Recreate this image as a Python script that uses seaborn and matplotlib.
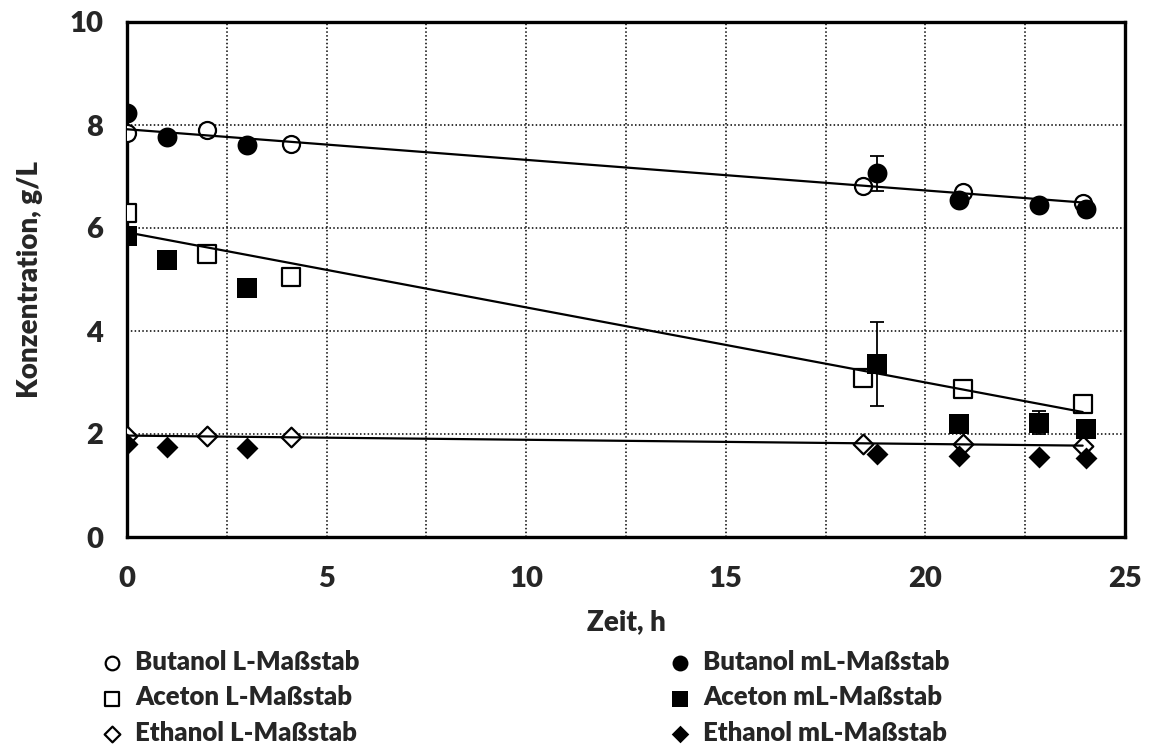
import numpy as np
import pandas as pd
import matplotlib
matplotlib.use("Agg")
import matplotlib.pyplot as plt
import seaborn as sns

# --- measured concentrations (g/L) over time (h) ---
# L-scale (Liter-Maßstab)
t_L = [0.0, 2.0, 4.1, 18.43, 20.93, 23.94]
butanol_L = [7.85, 7.90, 7.64, 6.82, 6.69, 6.48]
aceton_L = [6.30, 5.49, 5.04, 3.09, 2.88, 2.58]
ethanol_L = [1.96, 1.96, 1.94, 1.81, 1.81, 1.77]

# mL-scale (Milliliter-Maßstab) with standard deviations
t_mL = [0.0, 1.0, 3.0, 18.78, 20.85, 22.85, 24.02]
butanol_mL = [8.23, 7.77, 7.61, 7.06, 6.54, 6.45, 6.36]
butanol_mL_sd = [0.0, 0.0, 0.0, 0.34, 0.0, 0.0, 0.0]
aceton_mL = [5.85, 5.37, 4.83, 3.36, 2.19, 2.22, 2.10]
aceton_mL_sd = [0.0, 0.0, 0.0, 0.82, 0.0, 0.22, 0.0]
ethanol_mL = [1.81, 1.75, 1.72, 1.61, 1.57, 1.55, 1.53]
ethanol_mL_sd = [0.0, 0.0, 0.0, 0.0, 0.0, 0.0, 0.0]

labels_L = ["Butanol L-Maßstab", "Aceton L-Maßstab", "Ethanol L-Maßstab"]
labels_mL = ["Butanol mL-Maßstab", "Aceton mL-Maßstab", "Ethanol mL-Maßstab"]

x_ticks = [0, 5, 10, 15, 20, 25]
y_ticks = [0, 2, 4, 6, 8, 10]
x_label = "Zeit, h"
y_label = "Konzentration, g/L"

sns.set_theme(style="white")
plt.rcParams["font.family"] = ["Lato", "DejaVu Sans"]

W = "heavy"
FS_TICK = 21
FS_LABEL = 20
FS_LEG = 18.5

fig = plt.figure(figsize=(11.51, 7.56), dpi=100)
ax = fig.add_axes([127 / 1151, (756 - 537) / 756, 998 / 1151, 515 / 756])

series_L = [butanol_L, aceton_L, ethanol_L]
series_mL = [butanol_mL, aceton_mL, ethanol_mL]
sds_mL = [butanol_mL_sd, aceton_mL_sd, ethanol_mL_sd]
markers = ["o", "s", "D"]
sizes_filled = [205, 200, 125]
sizes_open = [150, 150, 100]

handles_L, handles_mL = [], []

# open markers: L-scale
for vals, m, s in zip(series_L, markers, sizes_open):
    df = pd.DataFrame({"t": t_L, "c": vals})
    sns.scatterplot(data=df, x="t", y="c", marker=m, s=s, facecolor="white",
                    edgecolor="black", linewidth=1.6, ax=ax, zorder=3,
                    legend=False)
    handles_L.append(ax.collections[-1])

# linear trend lines through the L-scale data
for vals in series_L:
    sns.regplot(x=np.array(t_L), y=np.array(vals), scatter=False, ci=None,
                truncate=True, color="black",
                line_kws={"lw": 1.6, "zorder": 4}, ax=ax)

# filled markers with error bars: mL-scale
for vals, sd, m, s in zip(series_mL, sds_mL, markers, sizes_filled):
    ax.errorbar(t_mL, vals, yerr=sd, fmt="none", ecolor="black",
                elinewidth=1.3, capsize=5, capthick=1.3, zorder=5)
    df = pd.DataFrame({"t": t_mL, "c": vals})
    sns.scatterplot(data=df, x="t", y="c", marker=m, s=s, color="black",
                    edgecolor="black", linewidth=0, ax=ax, zorder=6,
                    legend=False)
    handles_mL.append(ax.collections[-1])

ax.set_xlim(0, 25)
ax.set_ylim(0, 10)
ax.set_xticks(x_ticks)
ax.set_xticks(np.arange(2.5, 25, 5), minor=True)
ax.set_yticks(y_ticks)
ax.grid(True, axis="x", which="both", color="black", linestyle=(0, (1, 1.5)), linewidth=1.1)
ax.grid(True, axis="y", which="major", color="black", linestyle=(0, (1, 1.5)), linewidth=1.1)
ax.set_axisbelow(True)
ax.tick_params(axis="both", which="both", length=0, labelsize=FS_TICK)
ax.tick_params(axis="x", pad=21)
ax.tick_params(axis="y", pad=17)
for lbl in ax.get_xticklabels() + ax.get_yticklabels():
    lbl.set_fontweight(W)

for sp in ax.spines.values():
    sp.set_visible(True)
    sp.set_color("black")
    sp.set_linewidth(2.4)

ax.set_xlabel(x_label, fontsize=FS_LABEL, fontweight=W, labelpad=12)
ax.set_ylabel(y_label, fontsize=FS_LABEL, fontweight=W, labelpad=19)

leg_kw = dict(frameon=False, loc="upper left", handlelength=1.0,
              handletextpad=0.4, labelspacing=0.44, borderpad=0,
              borderaxespad=0, markerscale=0.8,
              prop={"weight": W, "size": FS_LEG})
fig.legend(handles_L, labels_L, bbox_to_anchor=(99 / 1151, 1 - 650 / 756), **leg_kw)
fig.legend(handles_mL, labels_mL, bbox_to_anchor=(667 / 1151, 1 - 650 / 756), **leg_kw)

fig.savefig("out.png", dpi=100, facecolor="white")
